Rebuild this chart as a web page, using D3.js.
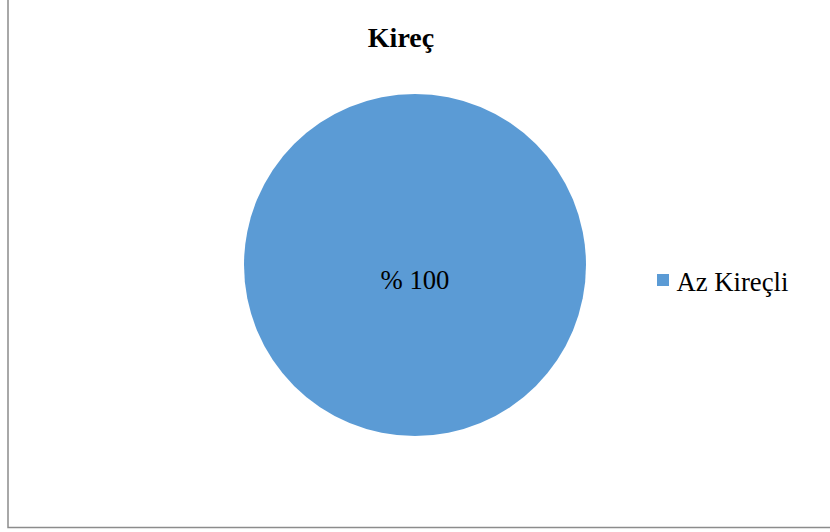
<!DOCTYPE html>
<html>
<head>
<meta charset="utf-8">
<script src="https://cdn.jsdelivr.net/npm/d3@7"></script>
<style>
  html, body { margin: 0; padding: 0; background: #fff; }
  svg { display: block; }
</style>
</head>
<body>
<div id="root"></div>
<script>
// chart values
const title = 'Kireç';
const categories = ['Az Kireçli'];
const values = [100];
const colors = ['#5B9BD5'];

let width = 830, height = 532;
let cx = 415, cy = 265, radius = 171;
const font = '"Liberation Serif", "Times New Roman", serif';

var svg = d3.select('#root')
  .append('svg')
  .attr('width', width)
  .attr('height', height);

// chart frame (top and right edges fall outside the picture)
svg.append('rect')
  .attr('x', 8)
  .attr('y', -10)
  .attr('width', width + 10)
  .attr('height', 537.5)
  .attr('fill', '#fff')
  .attr('stroke', '#8c8c8c')
  .attr('stroke-width', 1.5);

// title
svg.append('text')
  .attr('x', 401)
  .attr('y', 47)
  .attr('text-anchor', 'middle')
  .style('font-family', font)
  .style('font-weight', 'bold')
  .style('font-size', '28px')
  .text(title);

var colorScale = d3.scaleOrdinal()
  .domain(categories)
  .range(colors);

var pie = d3.pie().sort(null).value(d => d.value);
var data = categories.map((c, i) => ({name: c, value: values[i]}));
var arcs = pie(data);

var arc = d3.arc().innerRadius(0).outerRadius(radius);

var g = svg.append('g')
  .attr('transform', 'translate(' + [cx, cy] + ')');

g.selectAll('path')
  .data(arcs)
  .enter()
  .append('path')
  .attr('d', arc)
  .attr('fill', d => colorScale(d.data.name));

// data labels (a single full slice keeps its label near the middle)
var total = d3.sum(values);
g.selectAll('text.lbl')
  .data(arcs)
  .enter()
  .append('text')
  .attr('class', 'lbl')
  .attr('transform', d => {
    var p = arcs.length === 1 ? [0, 24] : arc.centroid(d);
    return 'translate(' + p + ')';
  })
  .attr('text-anchor', 'middle')
  .style('font-family', font)
  .style('font-size', '26.7px')
  .text(d => '% ' + Math.round(d.data.value / total * 100));

// legend
var legend = svg.append('g')
  .attr('transform', 'translate(657,274)');

var item = legend.selectAll('g')
  .data(categories)
  .enter()
  .append('g')
  .attr('transform', (d, i) => 'translate(0,' + i * 30 + ')');

item.append('rect')
  .attr('width', 12)
  .attr('height', 12)
  .attr('fill', d => colorScale(d));

item.append('text')
  .attr('x', 19.5)
  .attr('y', 17)
  .style('font-family', font)
  .style('font-size', '26.7px')
  .text(d => d);
</script>
</body>
</html>
